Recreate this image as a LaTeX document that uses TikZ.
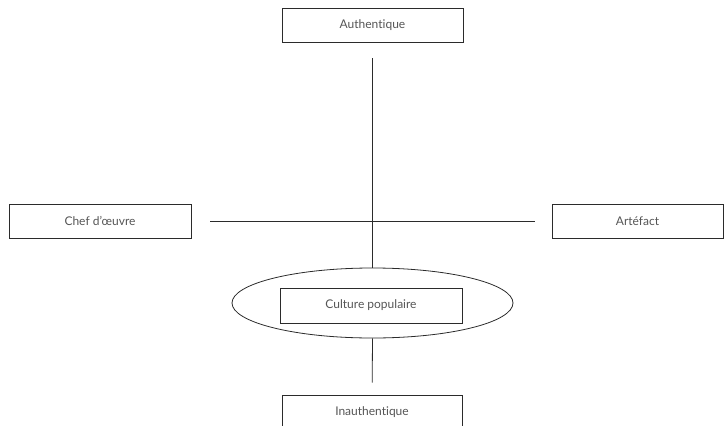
\documentclass[tikz,border=0pt]{standalone}
\usepackage{fontspec}
\setmainfont{Lato}[Ligatures={NoCommon}]
\usepackage{xcolor}
\definecolor{edge}{HTML}{2B2B2B}
\definecolor{label}{HTML}{555555}
\usetikzlibrary{positioning,shapes.geometric}
\begin{document}
\begin{tikzpicture}[x=1pt,y=-1pt,
  pole/.style={draw=edge,line width=0.8pt,minimum height=34pt,inner sep=0pt,
               font=\fontsize{12}{14}\selectfont,text=label},
  ring/.style={draw=edge,line width=0.8pt,ellipse,inner sep=0pt,minimum width=281pt,minimum height=70pt},
  axis/.style={draw=edge,line width=0.8pt}]
\useasboundingbox (0,0) rectangle (724,426);
\node[pole,minimum width=181pt] (auth) at (372.5,25) {Authentique};
\node[pole,minimum width=182pt] (chef) at (100,221) {Chef d’œuvre};
\node[pole,minimum width=171pt] (art) at (637.5,221) {Artéfact};
\node[ring] (ell) at (372.5,303) {};
\node[pole,minimum width=182pt,minimum height=35pt] (pop) at (371,305.5) {Culture populaire};
\node[pole,minimum width=180pt] (inauth) at (372,412) {Inauthentique};
\draw[axis,shorten <=16pt] (auth) -- (ell.north);
\draw[axis,shorten <=19pt,shorten >=17pt] (chef) -- (art);
\draw[axis,shorten >=12pt] (ell.south) -- (inauth);
\end{tikzpicture}
\end{document}
